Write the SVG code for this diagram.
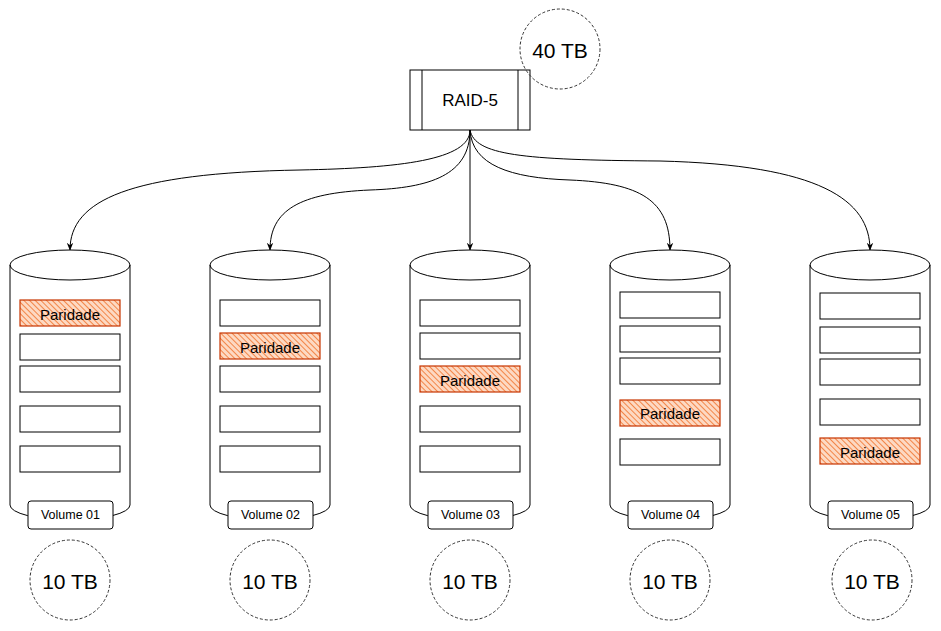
<svg xmlns="http://www.w3.org/2000/svg" width="941" height="631" viewBox="0 0 941 631">
<defs>
<style>
.ln{fill:none;stroke:#000;stroke-width:1}
.cyl{fill:#fff;stroke:#000;stroke-width:1}
.blk{fill:#fff;stroke:#000;stroke-width:1}
.par{fill:url(#hatch);stroke:#C73500;stroke-width:1.2}
.vol{fill:#fff;stroke:#000;stroke-width:1}
.cap{fill:none;stroke:#333;stroke-width:1;stroke-dasharray:3 2}
.t{font-family:"Liberation Sans",Arial,sans-serif;fill:#000;text-anchor:middle;dominant-baseline:central}
.tp{font-size:15px}
.tv{font-size:12.5px}
.tc{font-size:21px}
.tr{font-size:17px}
</style>
<pattern id="hatch" patternUnits="userSpaceOnUse" width="4" height="4" patternTransform="rotate(-45)">
<rect width="4" height="4" fill="#fdd9c3"/>
<line x1="0" y1="0" x2="0" y2="4" stroke="#f06a1e" stroke-width="1.5"/>
</pattern>
<marker id="arr" viewBox="0 0 10 10" refX="9" refY="5" markerWidth="8" markerHeight="8" markerUnits="userSpaceOnUse" orient="auto">
<path d="M0,1 L10,5 L0,9 L3,5 Z" fill="#000"/>
</marker>
<g id="cylShape">
<path class="cyl" d="M0,15 A60,15 0 0 1 120,15 L120,255 A60,15 0 0 1 0,255 Z"/>
<path class="ln" d="M0,15 A60,15 0 0 0 120,15"/>
</g>
</defs>
<rect width="941" height="631" fill="#fff"/>

<g id="connectors">
<path class="ln" marker-end="url(#arr)" d="M470,130 C470,160 400,168 300,170 C130,173 70,200 70,250"/>
<path class="ln" marker-end="url(#arr)" d="M470,130 C470,175 430,188 370,190 C300,193 270,210 270,250"/>
<path class="ln" marker-end="url(#arr)" d="M470,130 L470,250"/>
<path class="ln" marker-end="url(#arr)" d="M470,130 C472,165 510,178 570,180 C640,183 670,200 670,250"/>
<path class="ln" marker-end="url(#arr)" d="M470,130 C475,155 520,160 660,161 C820,165 870,200 870,250"/>
</g>

<g id="raid5">
<rect class="blk" x="410" y="70" width="120" height="60"/>
<line class="ln" x1="422" y1="70" x2="422" y2="130"/>
<line class="ln" x1="518" y1="70" x2="518" y2="130"/>
<text class="t tr" x="470" y="100">RAID-5</text>
</g>
<g id="cap40">
<circle class="cap" cx="560" cy="49" r="40"/>
<text class="t tc" x="560" y="50">40 TB</text>
</g>

<g id="volume01">
<use href="#cylShape" x="10" y="250"/>
<rect class="par" x="20" y="300" width="100" height="26"/>
<text class="t tp" x="70" y="314">Paridade</text>
<rect class="blk" x="20" y="334" width="100" height="26"/>
<rect class="blk" x="20" y="366" width="100" height="26"/>
<rect class="blk" x="20" y="406" width="100" height="26"/>
<rect class="blk" x="20" y="446" width="100" height="26"/>
<rect class="vol" x="28" y="501" width="85" height="28" rx="3"/>
<text class="t tv" x="70.5" y="515">Volume 01</text>
</g>
<g id="cap01"><circle class="cap" cx="70" cy="580" r="40"/><text class="t tc" x="70" y="581">10 TB</text></g>

<g id="volume02">
<use href="#cylShape" x="210" y="250"/>
<rect class="blk" x="220" y="300" width="100" height="26"/>
<rect class="par" x="220" y="333" width="100" height="26"/>
<text class="t tp" x="270" y="347">Paridade</text>
<rect class="blk" x="220" y="366" width="100" height="26"/>
<rect class="blk" x="220" y="406" width="100" height="26"/>
<rect class="blk" x="220" y="446" width="100" height="26"/>
<rect class="vol" x="228" y="501" width="85" height="28" rx="3"/>
<text class="t tv" x="270.5" y="515">Volume 02</text>
</g>
<g id="cap02"><circle class="cap" cx="270" cy="580" r="40"/><text class="t tc" x="270" y="581">10 TB</text></g>

<g id="volume03">
<use href="#cylShape" x="410" y="250"/>
<rect class="blk" x="420" y="300" width="100" height="26"/>
<rect class="blk" x="420" y="333" width="100" height="26"/>
<rect class="par" x="420" y="366" width="100" height="26"/>
<text class="t tp" x="470" y="380">Paridade</text>
<rect class="blk" x="420" y="406" width="100" height="26"/>
<rect class="blk" x="420" y="446" width="100" height="26"/>
<rect class="vol" x="428" y="501" width="85" height="28" rx="3"/>
<text class="t tv" x="470.5" y="515">Volume 03</text>
</g>
<g id="cap03"><circle class="cap" cx="470" cy="580" r="40"/><text class="t tc" x="470" y="581">10 TB</text></g>

<g id="volume04">
<use href="#cylShape" x="610" y="250"/>
<rect class="blk" x="620" y="292" width="100" height="26"/>
<rect class="blk" x="620" y="326" width="100" height="26"/>
<rect class="blk" x="620" y="358" width="100" height="26"/>
<rect class="par" x="620" y="400" width="100" height="26"/>
<text class="t tp" x="670" y="413">Paridade</text>
<rect class="blk" x="620" y="439" width="100" height="26"/>
<rect class="vol" x="628" y="501" width="85" height="28" rx="3"/>
<text class="t tv" x="670.5" y="515">Volume 04</text>
</g>
<g id="cap04"><circle class="cap" cx="670" cy="580" r="40"/><text class="t tc" x="670" y="581">10 TB</text></g>

<g id="volume05">
<use href="#cylShape" x="810" y="250"/>
<rect class="blk" x="820" y="293" width="100" height="26"/>
<rect class="blk" x="820" y="327" width="100" height="26"/>
<rect class="blk" x="820" y="359" width="100" height="26"/>
<rect class="blk" x="820" y="399" width="100" height="26"/>
<rect class="par" x="820" y="438" width="100" height="26"/>
<text class="t tp" x="870" y="452">Paridade</text>
<rect class="vol" x="828" y="501" width="85" height="28" rx="3"/>
<text class="t tv" x="870.5" y="515">Volume 05</text>
</g>
<g id="cap05"><circle class="cap" cx="872" cy="580" r="40"/><text class="t tc" x="872" y="581">10 TB</text></g>
</svg>
